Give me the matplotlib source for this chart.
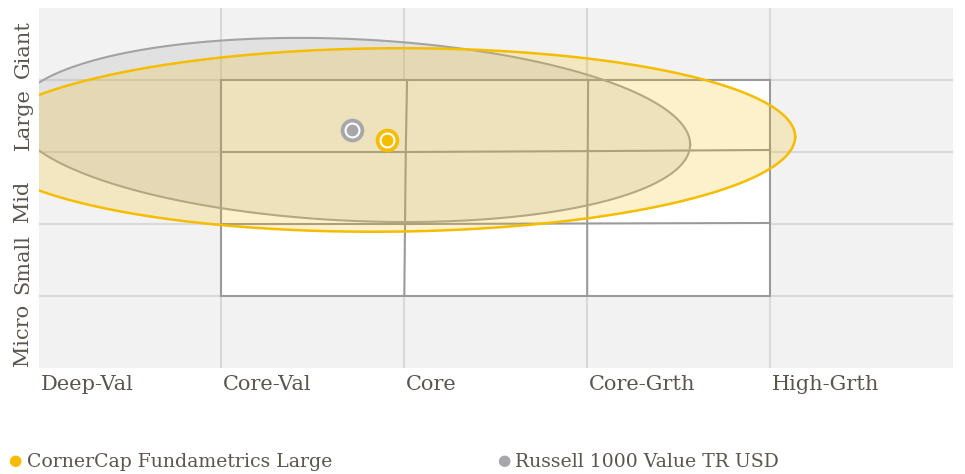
import numpy as np
import matplotlib.pyplot as plt

# --- data ---
x_labels = ['Deep-Val', 'Core-Val', 'Core', 'Core-Grth', 'High-Grth']
y_labels = ['Micro', 'Small', 'Mid', 'Large', 'Giant']

# style box corner grid (x, y) for rows y=1..4, columns x=1..4
box_x = [[1.0, 2.0, 3.0, 4.0],
         [1.0, 2.004, 3.0, 4.0],
         [1.0, 2.008, 3.003, 4.0],
         [1.0, 2.015, 3.005, 4.0]]
box_y = [[1.0, 1.0, 1.0, 1.0],
         [2.0, 2.0, 2.007, 2.014],
         [3.0, 3.0, 3.012, 3.028],
         [4.0, 4.0, 4.0, 4.0]]

# ownership zones: name, centre x, centre y, half width, half height, shear
fund_name = 'CornerCap Fundametrics Large'
fund_zone = (1.907, 3.167, 2.23, 1.274, 0.02)
bench_name = 'Russell 1000 Value TR USD'
bench_zone = (1.716, 3.306, 1.847, 1.263, -0.109)

gold = '#f5bd00'
grey = '#a7a7ab'
text_col = '#5c554d'

plt.rcParams['font.family'] = ['DejaVu Serif']

fig = plt.figure(figsize=(9.65, 4.74), dpi=100)
ax = fig.add_axes([38.5 / 965, 106 / 474, 914.5 / 965, 360 / 474])
ax.set_xlim(0, 5)
ax.set_ylim(0, 5)
ax.set_facecolor('#f2f2f2')
for s in ax.spines.values():
    s.set_visible(False)
ax.set_xticks([])
ax.set_yticks([])

# light grid
for i in range(1, 5):
    ax.axvline(i, color='#d9d9d9', lw=1.5, zorder=1)
    ax.axhline(i, color='#d9d9d9', lw=1.5, zorder=1)

# style box
bx = np.array(box_x)
by = np.array(box_y)
ax.fill([bx[0, 0], bx[0, 3], bx[3, 3], bx[3, 0]],
        [by[0, 0], by[0, 3], by[3, 3], by[3, 0]], color='white', zorder=2)
for r in range(4):
    ax.plot(bx[r], by[r], color='#9a9a9a', lw=1.5, zorder=3)
for c in range(4):
    ax.plot(bx[:, c], by[:, c], color='#9a9a9a', lw=1.5, zorder=3)


def zone(cx, cy, a, b, s):
    t = np.linspace(0, 2 * np.pi, 400)
    x = cx + a * np.cos(t)
    y = cy + b * np.sin(t) + s * a * np.cos(t)
    return x, y


gx, gy = zone(*bench_zone)
ax.fill(gx, gy, facecolor='#a0a0a0', alpha=0.2, zorder=4)
ax.plot(gx, gy, color='#a3a3a3', lw=1.5, zorder=4)
fx, fy = zone(*fund_zone)
ax.fill(fx, fy, facecolor=gold, alpha=0.2, zorder=5)
ax.plot(fx, fy, color=gold, lw=1.8, zorder=5)

# centroids
for (cx, cy), col in [((bench_zone[0], bench_zone[1]), grey),
                      ((fund_zone[0], fund_zone[1]), gold)]:
    ax.plot(cx, cy, 'o', ms=17, color=col, mec='none', zorder=6)
    ax.plot(cx, cy, 'o', ms=11.5, color='white', mec='none', zorder=6)
    ax.plot(cx, cy, 'o', ms=8.5, color=col, mec='none', zorder=6)

# axis labels
for i, lab in enumerate(x_labels):
    ax.text(i + 0.01, -0.23, lab, ha='left', va='center', fontsize=15,
            color=text_col, clip_on=False)
for i, lab in enumerate(y_labels):
    ax.text(-0.085, i + 0.03, lab, rotation=90, rotation_mode='anchor',
            ha='left', va='center', fontsize=15, color=text_col, clip_on=False)

# legend
fig.text(15 / 965, 13.5 / 474, '\u25CF', color=gold, fontsize=11, ha='center', va='center',
         family='DejaVu Sans')
fig.text(27 / 965, 12 / 474, fund_name, color=text_col, fontsize=13.6, ha='left', va='center')
fig.text(504 / 965, 13.5 / 474, '\u25CF', color=grey, fontsize=11, ha='center', va='center',
         family='DejaVu Sans')
fig.text(515 / 965, 12 / 474, bench_name, color=text_col, fontsize=13.6, ha='left', va='center')

fig.savefig('out.png', dpi=100)
